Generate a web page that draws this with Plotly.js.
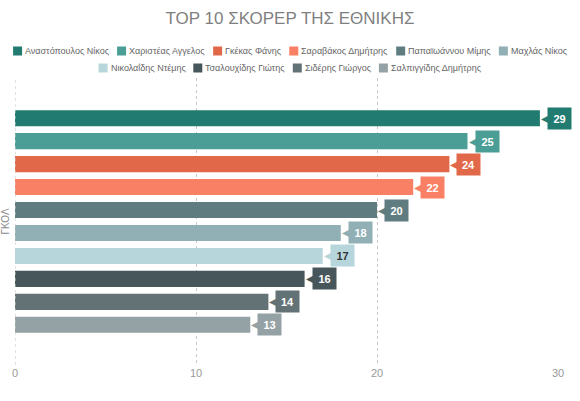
<!DOCTYPE html>
<html>
<head>
<meta charset="utf-8">
<script src="https://cdn.plot.ly/plotly-3.0.1.min.js"></script>
<style>html,body{margin:0;padding:0;background:#fff}#chart{width:580px;height:401px}</style>
</head>
<body>
<div id="chart"></div>
<script>
var players = ["Αναστόπουλος Νίκος","Χαριστέας Αγγελος","Γκέκας Φάνης","Σαραβάκος Δημήτρης","Παπαϊωάννου Μίμης","Μαχλάς Νίκος","Νικολαΐδης Ντέμης","Τσαλουχίδης Γιώτης","Σιδέρης Γιώργος","Σαλπιγγίδης Δημήτρης"];
var goals = [29,25,24,22,20,18,17,16,14,13];
var colors = ["#227b71","#4a9e95","#e2684a","#f98064","#5f7d80","#90b0b5","#b7d6dc","#47565a","#637274","#95a2a5"];
var labelTextColors = ["#fff","#fff","#fff","#fff","#fff","#fff","#333","#fff","#fff","#fff"];
var category = ["ΓΚΟΛ"];
var xTicks = [0,10,20,30];
var legendRows = [6,4];

var W = 580, H = 401;
var M = {l:15, r:22, t:78, b:36};
var pw = W - M.l - M.r, ph = H - M.t - M.b;
function px2x(px){ return (px - M.l)/pw; }
function py2y(py){ return (H - M.b - py)/ph; }

var traces = players.map(function(p,i){
  return {type:'bar', orientation:'h', name:p, x:[goals[i]], y:category,
    marker:{color:colors[i]}, hoverinfo:'x+name', showlegend:false};
});

var n = players.length, groupW = 0.8, slot = groupW/n;
var annotations = [], shapes = [];
players.forEach(function(p,i){
  var yp = -groupW/2 + slot*(i+0.5);
  annotations.push({x:goals[i], y:yp, xref:'x', yref:'y', text:'◀', showarrow:false,
    xanchor:'left', xshift:-1, font:{size:10, color:colors[i], family:'DejaVu Sans'}});
  annotations.push({x:goals[i], y:yp, xref:'x', yref:'y', text:'<b>'+goals[i]+'</b>', showarrow:false,
    xanchor:'left', xshift:7, bgcolor:colors[i], borderpad:4.5, width:14,
    font:{size:11, color:labelTextColors[i], family:'Liberation Sans, Arial'}});
});

// custom legend (variable-width entries, two centered rows)
var legFontSize = 9;
var ctx = document.createElement('canvas').getContext('2d');
ctx.font = legFontSize + 'px "Liberation Sans"';
var rowY = [51, 68], sw = 9, gapT = 3, gapI = 8;
var idx = 0;
legendRows.forEach(function(cnt, r){
  var names = players.slice(idx, idx+cnt);
  var widths = names.map(function(t){ return ctx.measureText(t).width; });
  var total = widths.reduce(function(a,w){ return a + sw + gapT + w; }, 0) + gapI*(cnt-1);
  var xpos = W/2 - total/2;
  names.forEach(function(t,k){
    var ci = idx + k;
    shapes.push({type:'rect', xref:'paper', yref:'paper',
      x0:px2x(xpos), x1:px2x(xpos+sw), y0:py2y(rowY[r]+sw/2), y1:py2y(rowY[r]-sw/2),
      fillcolor:colors[ci], line:{width:0}});
    annotations.push({xref:'paper', yref:'paper', x:px2x(xpos+sw+gapT-1), y:py2y(rowY[r]),
      xanchor:'left', yanchor:'middle', text:t, showarrow:false, borderpad:0,
      font:{size:legFontSize, color:'#666', family:'Liberation Sans, Arial'}});
    xpos += sw + gapT + widths[k] + gapI;
  });
  idx += cnt;
});

shapes.push({type:'line', xref:'x', yref:'paper', x0:0, x1:0, y0:0, y1:1, line:{color:'#c8c8c8', width:1, dash:'dot'}});

var layout = {
  width:W, height:H,
  margin:M,
  paper_bgcolor:'#fff', plot_bgcolor:'#fff',
  font:{family:'Liberation Sans, Arial', color:'#8a8a8a'},
  title:{text:'TOP 10 ΣΚΟΡΕΡ ΤΗΣ ΕΘΝΙΚΗΣ', x:0.5, xanchor:'center', y:1-18/H, yanchor:'middle', font:{size:17, color:'#7f7f7f'}},
  showlegend:false,
  barmode:'group', bargap:0.2, bargroupgap:0.3,
  xaxis:{range:[0,30], tickvals:xTicks, showgrid:true, gridcolor:'#c8c8c8', griddash:'dot', zeroline:false, ticks:'', tickfont:{size:11, color:'#999'}, showline:false, fixedrange:true, automargin:false},
  yaxis:{autorange:'reversed', showticklabels:false, showgrid:false, zeroline:false, automargin:false,
    title:{text:'ΓΚΟΛ', font:{size:10, color:'#8a8a8a'}, standoff:2}, fixedrange:true},
  shapes:shapes,
  annotations:annotations
};
Plotly.newPlot('chart', traces, layout, {displayModeBar:false, staticPlot:true});
</script>
</body>
</html>
